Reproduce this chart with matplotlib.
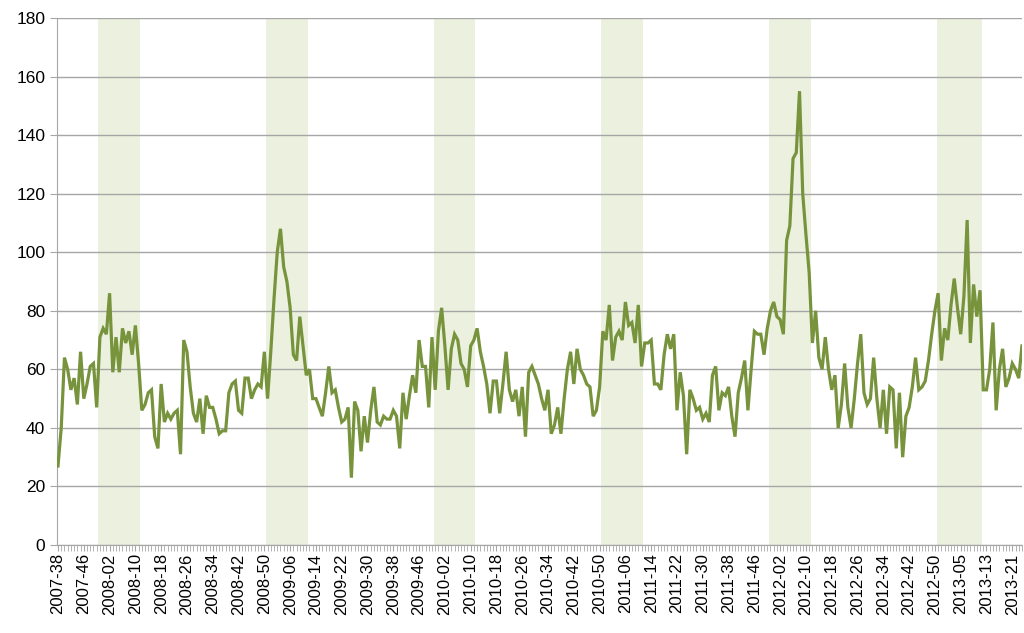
import matplotlib
matplotlib.use('Agg')
import matplotlib.pyplot as plt

# weekly values, first week is 2007-38
values = [
    27, 40, 64, 60, 53, 57, 48, 66, 50, 55,
    61, 62, 47, 71, 74, 72, 86, 59, 71, 59,
    74, 69, 73, 65, 75, 62, 46, 48, 52, 53,
    37, 33, 55, 42, 45, 43, 45, 46, 31, 70,
    66, 54, 45, 42, 50, 38, 51, 47, 47, 43,
    38, 39, 39, 52, 55, 56, 46, 45, 57, 57,
    50, 53, 55, 54, 66, 50, 66, 84, 100, 108,
    95, 90, 81, 65, 63, 78, 68, 58, 60, 50,
    50, 47, 44, 52, 61, 52, 53, 47, 42, 43,
    47, 23, 49, 46, 32, 44, 35, 46, 54, 42,
    41, 44, 43, 43, 46, 44, 33, 52, 43, 51,
    58, 52, 70, 61, 61, 47, 71, 53, 73, 81,
    68, 53, 67, 72, 70, 62, 60, 54, 68, 70,
    74, 66, 61, 55, 45, 56, 56, 45, 55, 66,
    53, 49, 53, 44, 54, 37, 59, 61, 58, 55,
    50, 46, 53, 38, 41, 47, 38, 50, 60, 66,
    55, 67, 60, 58, 55, 54, 44, 46, 54, 73,
    70, 82, 63, 71, 73, 70, 83, 75, 76, 69,
    82, 61, 69, 69, 70, 55, 55, 53, 65, 72,
    67, 72, 46, 59, 51, 31, 53, 50, 46, 47,
    43, 45, 42, 58, 61, 46, 52, 51, 54, 44,
    37, 52, 57, 63, 46, 60, 73, 72, 72, 65,
    74, 80, 83, 78, 77, 72, 104, 109, 132, 134,
    155, 120, 106, 93, 69, 80, 64, 60, 71, 60,
    53, 58, 40, 48, 62, 47, 40, 50, 62, 72,
    52, 48, 50, 64, 50, 40, 53, 38, 54, 53,
    33, 52, 30, 44, 47, 54, 64, 53, 54, 56,
    63, 72, 80, 86, 63, 74, 70, 82, 91, 81,
    72, 85, 111, 69, 89, 78, 87, 53, 53, 60,
    76, 46, 60, 67, 54, 57, 62, 60, 57, 68,
]

start_year = 2007
start_week = 38
weeks_in_year = {2007: 52, 2008: 52, 2009: 52, 2010: 52, 2011: 52, 2012: 53, 2013: 52}

# shaded winter periods (week 51 - week 11), as (first label, last label)
winter_periods = [
    ('2007-51', '2008-11'),
    ('2008-51', '2009-11'),
    ('2009-51', '2010-11'),
    ('2010-51', '2011-11'),
    ('2011-51', '2012-11'),
    ('2012-51', '2013-11'),
]

# build week labels
labels = []
y, w = start_year, start_week
for _ in values:
    labels.append(f'{y}-{w:02d}')
    w += 1
    if w > weeks_in_year[y]:
        y += 1
        w = 1

x = list(range(len(values)))

plt.rcParams['font.family'] = ['Liberation Sans', 'DejaVu Sans']

fig = plt.figure(figsize=(10.24, 6.33), dpi=100)
ax = fig.add_axes([0.0557, 0.139, 0.9423, 0.8326])

for a, b in winter_periods:
    i0, i1 = labels.index(a), labels.index(b)
    ax.axvspan(i0 - 0.5, i1 + 0.5, color='#EBF1DE', lw=0, zorder=0)

ax.plot(x, values, color='#77933C', lw=2.3, zorder=3, solid_joinstyle='miter')

ax.set_ylim(0, 180)
ax.set_yticks(range(0, 181, 20))
ax.set_xlim(-0.3, len(values) - 1)
ax.set_xticks(x[::8])
ax.set_xticklabels(labels[::8], rotation=90, fontsize=12)
ax.set_xticks(x, minor=True)
ax.tick_params(axis='x', which='both', length=4, color='#A6A6A6', pad=2)
ax.tick_params(axis='y', length=5, color='#A6A6A6', labelsize=12.5)

ax.grid(axis='y', color='#A6A6A6', lw=1, zorder=1)
ax.set_axisbelow(True)
for side in ['top', 'right']:
    ax.spines[side].set_visible(False)
for side in ['left', 'bottom']:
    ax.spines[side].set_color('#A6A6A6')

fig.savefig('out.png', dpi=100)
